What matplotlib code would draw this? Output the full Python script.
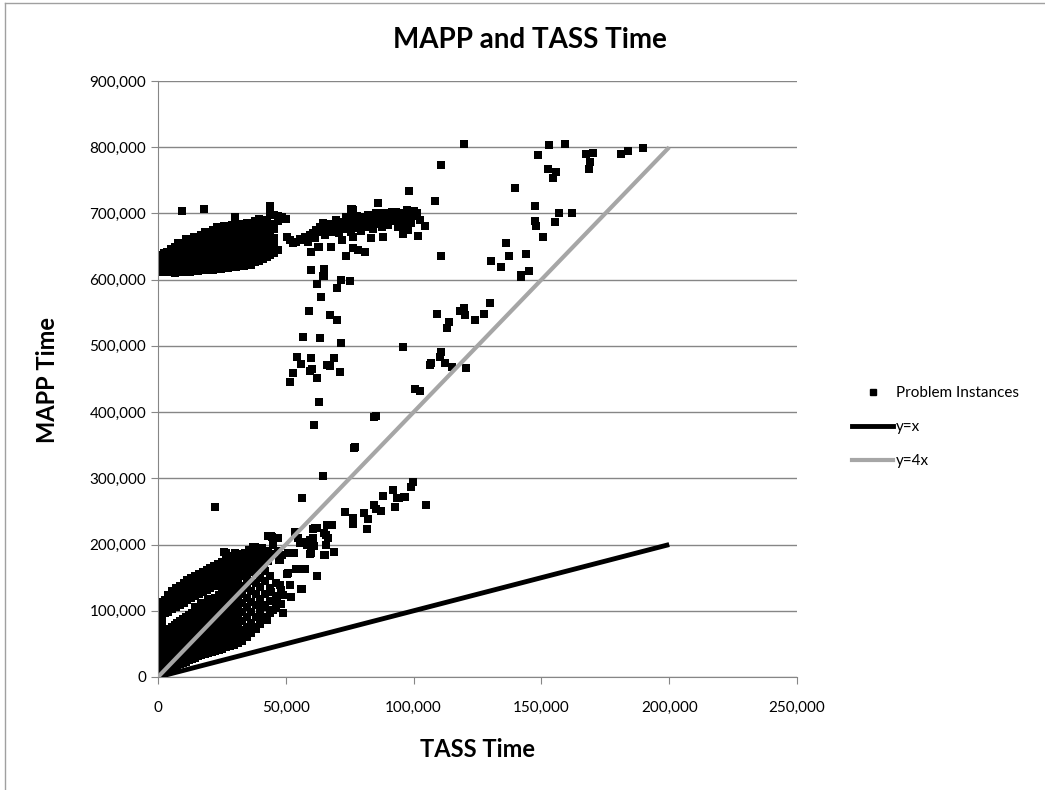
import matplotlib
matplotlib.use("Agg")
from matplotlib import pyplot as plt
from matplotlib.lines import Line2D
from matplotlib.ticker import FuncFormatter

plt.rcParams["font.family"] = ["Lato", "DejaVu Sans"]

# 모든 값은 1000 단위 (TASS, MAPP)
# 상단 군집: (TASS, [MAPP ...])
top_cluster = [
    (0.5, [616, 624, 632, 638]), (1.5, [612, 620, 629, 636]),
    (2.5, [615, 623, 631, 640]), (3.5, [611, 619, 627, 634, 642]),
    (5.0, [613, 621, 630, 638, 646]), (6.5, [610, 618, 626, 635, 643, 650]),
    (8.0, [614, 622, 631, 639, 647, 655]), (9.5, [611, 619, 628, 636, 644, 652]),
    (11.0, [615, 623, 632, 640, 648, 657, 662]), (12.5, [612, 620, 629, 637, 645, 653, 660]),
    (14.0, [616, 624, 633, 641, 650, 658, 665]), (15.5, [613, 621, 630, 638, 646, 655, 663]),
    (17.0, [617, 625, 634, 642, 651, 659, 668]), (18.5, [614, 622, 631, 640, 648, 657, 666, 672]),
    (20.0, [618, 626, 635, 643, 652, 661, 670]), (21.5, [615, 623, 632, 641, 650, 658, 667, 675]),
    (23.0, [619, 627, 636, 645, 654, 663, 672, 679]), (24.5, [616, 624, 633, 642, 650, 659, 668, 676]),
    (26.0, [620, 628, 637, 646, 655, 664, 673, 681]), (27.5, [617, 626, 635, 643, 652, 668, 677]),
    (29.0, [621, 629, 647, 656, 665, 674, 682]), (30.5, [619, 627, 636, 645, 654, 671, 680]),
    (32.0, [622, 631, 640, 649, 658, 667, 676, 684]), (33.5, [620, 628, 637, 655, 664, 673, 681]),
    (35.0, [624, 632, 641, 650, 659, 668, 677, 686]), (36.5, [622, 630, 639, 648, 666, 675, 684]),
    (38.0, [626, 634, 643, 652, 661, 670, 679, 688]), (39.5, [628, 637, 646, 655, 664, 673, 682, 691]),
    (41.0, [631, 640, 649, 658, 667, 676, 686]), (42.5, [634, 643, 652, 661, 670, 680, 690]),
    (44.0, [637, 646, 655, 668, 684, 697]), (45.5, [640, 652, 663, 676, 698]),
    (47.0, [645, 688, 696]), (48.5, [694]), (50.0, [692]),
]

# 상단 꼬리 (50k~105k)
trail = [
    (9.2, 704), (18.0, 706.5), (30.0, 694), (43.7, 710.4),
    (50.3, 665), (52.9, 655), (56.8, 660), (59.4, 668), (62.0, 675), (64.6, 685),
    (67.2, 677.8), (69.8, 682.8), (72.4, 687.8), (75.0, 692.9), (76.3, 705.4),
    (80.2, 695.3), (82.8, 690.3), (85.4, 700.5), (88.0, 695.3), (90.6, 697.9),
    (93.2, 702.9), (95.8, 700.5), (98.4, 697.9), (99.7, 700.5), (104.3, 681.3),
    (101.7, 666.2), (95.8, 672.6), (88.0, 665), (83.5, 662.7), (76.3, 665),
    (71.8, 660), (67.8, 650), (60.0, 642.5), (62.6, 650), (76.3, 647.6),
    (78.3, 645), (80.9, 642.5), (73.7, 635), (75.7, 707), (97.7, 675.2),
    (51.5, 660), (54, 657), (55.5, 662), (57.5, 665), (58.5, 657), (60.5, 670),
    (61.5, 663), (63, 672), (63.5, 680), (65.5, 668), (66, 676), (67.5, 684),
    (68.5, 672), (69.5, 690), (70.5, 678), (71, 670), (72, 684), (73, 676),
    (73.5, 694), (74.5, 682), (75.5, 672), (76.5, 688), (77.5, 678), (78, 696),
    (79, 684), (79.5, 673), (80.5, 690), (81.5, 680), (82, 698), (83, 686),
    (84, 676), (84.5, 694), (85.5, 684), (86.5, 690), (87.5, 680), (88.5, 700),
    (89, 688), (90, 682), (91, 694), (91.5, 702), (92.5, 688), (93.5, 696),
    (94, 680), (95, 690), (96, 698), (96.5, 684), (97.5, 705), (98, 692),
    (99, 686), (100, 704), (100.5, 696), (101.5, 700), (102.5, 690),
]

# 흩어진 점들 (중간/오른쪽)
sparse = [
    (98.2, 734.6), (139.7, 738.7), (108.2, 719.5), (44.0, 711.5), (85.9, 715.5),
    (76.0, 706.5), (147.4, 711.5), (147.4, 689), (147.9, 681), (150.7, 664),
    (110.9, 636), (136.3, 655.6), (137.5, 636), (144.1, 638.5), (130.2, 628),
    (134.3, 619), (141.9, 606.8), (141.9, 603.8), (145.2, 612.8),
    (59.9, 642.5), (62.8, 650), (67.7, 649), (60.0, 614.8), (65.0, 616.3),
    (65.1, 605.7), (71.6, 599.7), (75.0, 597.7), (62.2, 593.2), (70.0, 587.1),
    (63.8, 574), (58.9, 552.9), (67.2, 546.4), (69.9, 539.8), (56.6, 514),
    (63.3, 512), (71.6, 505), (54.4, 483.8), (60.0, 481.4), (68.9, 481.4),
    (56.1, 473.3), (66.1, 471.8), (67.3, 470.2), (60.2, 464.8), (59.4, 462.2),
    (71.1, 460.2), (52.9, 458.8), (62.4, 451.7), (51.7, 445.6), (62.8, 415.4),
    (61.1, 381.1), (76.6, 346.4), (77.2, 347.9), (64.7, 303.6), (56.5, 270.8),
    (96.0, 499), (109.3, 547.9), (113.8, 535.8), (113.2, 527.2), (118.1, 552.9),
    (119.6, 557.4), (120.3, 546.4), (124.2, 539.8), (127.6, 548.3), (129.7, 565.4),
    (106.8, 474.8), (106.4, 470.8), (110.9, 490.5), (110.3, 483.8), (112.1, 473.8),
    (115.0, 468.7), (120.4, 466.8), (100.5, 434.6), (102.6, 432.5), (84.4, 392.3),
    (85.4, 394.3), (88.0, 273.4), (92.1, 282.5), (96.2, 272.4), (99.7, 295),
    (98.9, 287.5), (93.6, 270), (119.8, 805), (110.9, 773.4), (148.6, 788),
    (153.0, 803.2), (159.1, 805.1), (152.5, 766.9), (155.7, 762.4), (154.6, 753.3),
    (167.3, 790), (170.2, 792), (169.0, 777.5), (168.5, 766.9), (181.3, 790),
    (184.0, 794.6), (189.6, 798.6), (156.9, 700.5), (161.8, 700.5), (155.2, 687.3),
    (101.6, 666.2), (95.8, 668.7), (64.6, 606.2),
    (73.3, 248.8), (76.3, 239.7), (76.3, 231.1), (80.6, 248.2), (82.3, 238.2),
    (81.6, 223.1), (84.4, 259.4), (85.4, 253.3), (87.2, 250.8), (94.3, 269.9),
    (96.6, 271.9), (92.7, 257.3), (104.8, 259.4),
]

# 하단 쐐기 주 영역: (TASS, [MAPP ...])
wedge = [
    (0.3, [2, 10, 18, 26, 34, 42, 50, 58]), (1.2, [5, 13, 21, 29, 37, 45, 53, 62]),
    (2.2, [4, 12, 20, 28, 36, 44, 52, 60, 67]), (3.2, [7, 15, 23, 31, 39, 47, 55, 63, 70]),
    (4.3, [9, 17, 25, 33, 41, 49, 57, 65, 73]), (5.4, [11, 19, 27, 35, 43, 51, 59, 67, 76]),
    (6.5, [14, 22, 30, 38, 46, 54, 62, 70, 79]), (7.6, [16, 24, 32, 40, 48, 56, 64, 72, 81]),
    (8.7, [19, 27, 35, 43, 51, 59, 67, 75, 84]), (9.8, [21, 29, 37, 45, 53, 61, 69, 78, 88]),
    (11.0, [23, 31, 39, 47, 55, 63, 71, 80, 91]), (12.2, [25, 33, 41, 49, 57, 65, 74, 83, 94]),
    (13.4, [27, 35, 43, 51, 59, 68, 77, 86, 97]), (14.6, [29, 37, 45, 53, 62, 71, 80, 89, 100, 106]),
    (15.8, [31, 39, 47, 56, 65, 74, 83, 92, 103]), (17.0, [33, 41, 50, 59, 68, 77, 86, 95, 106, 112]),
    (18.3, [35, 43, 52, 61, 70, 79, 88, 98, 109]), (19.6, [36, 45, 54, 63, 72, 82, 91, 101, 112, 118]),
    (21.0, [38, 47, 56, 66, 75, 85, 94, 104, 115]), (22.4, [39, 49, 59, 69, 79, 89, 99, 109, 119]),
    (23.8, [41, 51, 62, 72, 83, 93, 104, 114, 124]), (25.2, [43, 54, 65, 76, 86, 97, 108, 119, 128]),
    (26.7, [45, 56, 68, 79, 90, 101, 112, 123, 132]), (28.2, [47, 59, 71, 83, 95, 106, 117, 128]),
    (29.7, [49, 62, 75, 88, 100, 112, 124, 135]), (31.3, [52, 65, 78, 92, 106, 119, 131, 140]),
    (33.0, [55, 69, 84, 98, 112, 126, 138]), (34.7, [60, 75, 90, 105, 120, 134, 146]),
    (36.4, [66, 82, 98, 114, 130, 145]), (38.2, [72, 90, 108, 126, 142, 155]),
    (40.0, [80, 98, 118, 136, 150]), (42.0, [88, 108, 126, 145, 160]),
    (44.0, [96, 115, 134, 152]), (46.0, [104, 122, 142]), (48.0, [110, 132]),
]

# 쐐기 위쪽 팔
upper_arm = [
    (0.5, [72, 82, 92, 100]), (1.5, [78, 88, 98, 108, 114]), (2.8, [96, 106, 116]),
    (4.0, [98, 108, 118, 124]), (5.5, [102, 112, 122, 130]), (7.0, [105, 115, 125, 134]),
    (8.5, [108, 118, 128, 138]), (10.0, [112, 122, 132, 142]), (11.5, [116, 126, 136, 146]),
    (13.0, [119, 129, 139, 150]), (14.5, [122, 132, 142, 152]), (16.0, [126, 136, 146, 156]),
    (17.5, [128, 138, 148, 158]), (19.0, [131, 141, 151, 161]), (20.5, [134, 144, 154, 165]),
    (22.0, [137, 147, 157, 168]), (23.5, [139, 149, 160, 171]), (25.0, [142, 152, 163, 174]),
    (26.5, [144, 155, 166, 177, 188]), (28.0, [146, 157, 168, 179]), (29.5, [149, 160, 171, 182]),
    (31.0, [151, 162, 173, 184]), (32.5, [153, 164, 176, 186]), (34.0, [156, 167, 178, 188]),
    (35.5, [158, 170, 180, 192]), (37.0, [162, 174, 186, 197]), (38.5, [166, 178, 190]),
    (40.0, [170, 182, 194]), (41.5, [168, 181]), (43.0, [175, 190, 213]),
    (45.0, [185, 200]), (47.0, [190, 210]),
]

# 쐐기 오른쪽 흩어진 점
wedge_edge = [
    (22.4, 256.8), (25.8, 188.4), (30.2, 186.9), (28.5, 174.2), (15.6, 152.6),
    (44.5, 211.9), (37.9, 196.8), (53.6, 218.6), (44.4, 213), (40.5, 194.4),
    (36.6, 184.3), (42.5, 181.7), (50.9, 186.9), (55.5, 202), (54.8, 209.5),
    (59.4, 207), (61.3, 224.6), (66.5, 229.6), (67.8, 229.6), (65.9, 214.5),
    (60.0, 186.9), (65.2, 184.3), (68.8, 189.3), (32.0, 174.2), (34.0, 171.7),
    (47.7, 176.7), (50.9, 156.6), (54.2, 162.7), (57.4, 162.7), (62.4, 152.6),
    (47.7, 139), (51.6, 139), (56.1, 132.5), (48.9, 123.9), (52.2, 121.3),
    (44.4, 128.9), (46.4, 113.7), (41.1, 106.2), (45.0, 101.2), (48.9, 96.2),
    (42.5, 91.1), (40.5, 86.1), (37.9, 76), (34.6, 71), (32.0, 63.4),
    (53.4, 186.9), (48.4, 184.3), (47.4, 176.7), (53.9, 162.7), (50.5, 156),
    (48.9, 97.1), (42.7, 86.1), (38.0, 75.1), (31.8, 60.9), (28.1, 58.5),
    (60.7, 223.1), (62.2, 225.5), (66.1, 229.2), (68.2, 229.2), (64.8, 218),
    (66.7, 210), (60.7, 209.5), (56.8, 204), (58.3, 199.4), (60.9, 197.9),
    (65.6, 198.9), (59.4, 186.3), (64.8, 184.3), (68.9, 188.4), (57.3, 162.7),
    (62.2, 152.1), (56.3, 132.5),
]

# 기준선
ref_x = [0, 200000]
line_y1 = [0, 200000]
line_y4 = [0, 800000]

xs, ys = [], []
for cols in (top_cluster, wedge, upper_arm):
    for x, col in cols:
        for y in col:
            xs.append(x * 1000)
            ys.append(y * 1000)
for pts in (trail, sparse, wedge_edge):
    for x, y in pts:
        xs.append(x * 1000)
        ys.append(y * 1000)

fig = plt.figure(figsize=(10.45, 7.9), dpi=100)
ax = fig.add_axes([158 / 1045, 1 - 677 / 790, 639 / 1045, 596 / 790])

grid_c = "#868686"
ax.scatter(xs, ys, marker="s", s=27, c="black", linewidths=0, zorder=2)
ax.plot(ref_x, line_y1, color="black", lw=3.5, zorder=3, solid_capstyle="butt")
ax.plot(ref_x, line_y4, color="#A6A6A6", lw=3, zorder=3, solid_capstyle="butt")

ax.set_xlim(0, 250000)
ax.set_ylim(0, 900000)
ax.set_xticks(range(0, 250001, 50000))
ax.set_yticks(range(0, 900001, 100000))
ax.xaxis.set_major_formatter(FuncFormatter(lambda v, p: f"{int(v):,}"))
ax.yaxis.set_major_formatter(FuncFormatter(lambda v, p: f"{int(v):,}"))
ax.yaxis.grid(True, color=grid_c, lw=1)
ax.set_axisbelow(True)
for s in ("top", "right"):
    ax.spines[s].set_visible(False)
for s in ("left", "bottom"):
    ax.spines[s].set_color(grid_c)
ax.tick_params(axis="both", colors=grid_c, labelcolor="black", labelsize=11,
               length=5, direction="out")
ax.tick_params(axis="x", pad=12)

fig.text(0.507, 0.949, "MAPP and TASS Time", ha="center", va="center",
         fontsize=20, fontweight="bold")
fig.text(0.457, 0.051, "TASS Time", ha="center", va="center",
         fontsize=17, fontweight="bold")
fig.text(0.045, 0.519, "MAPP Time", ha="center", va="center",
         fontsize=17, fontweight="bold", rotation=90)

handles = [
    Line2D([], [], marker="s", color="black", linestyle="none", markersize=5),
    Line2D([], [], color="black", lw=3.5),
    Line2D([], [], color="#A6A6A6", lw=3),
]
fig.legend(handles, ["Problem Instances", "y=x", "y=4x"], loc="center left",
           bbox_to_anchor=(852 / 1045, 1 - 427 / 790), frameon=False,
           fontsize=11, handlelength=2.7, handletextpad=0.15,
           labelspacing=1.3, borderpad=0, borderaxespad=0)

# 바깥 테두리
fig.add_artist(Line2D([5 / 1045, 1], [1 - 3 / 790, 1 - 3 / 790], color="#A0A0A0", lw=1))
fig.add_artist(Line2D([5 / 1045, 5 / 1045], [0, 1 - 3 / 790], color="#A0A0A0", lw=1))

fig.savefig("out.png", dpi=100)
plt.close()
